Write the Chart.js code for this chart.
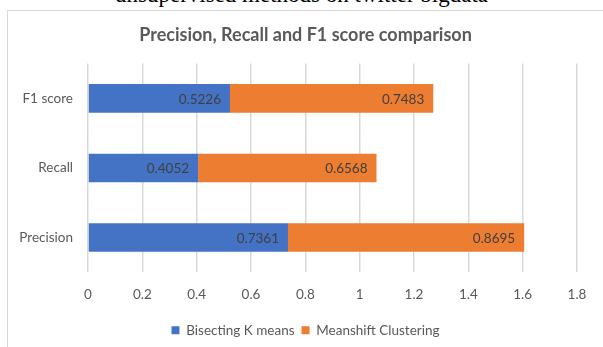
<!DOCTYPE html>
<html>
<head>
<meta charset="utf-8">
<script src="https://cdn.jsdelivr.net/npm/chart.js@4"></script>
<style>
  html, body { margin: 0; padding: 0; background: #fff; overflow: hidden; }
  body { width: 603px; height: 347px; position: relative; }
  #caption {
    position: absolute; left: 0; top: -18px; width: 603px; text-align: center;
    font-family: "Liberation Serif", serif; font-size: 23px; color: #000; white-space: nowrap;
  }
  #box {
    position: absolute; left: 7px; top: 10px; width: 620px; height: 360px;
    border: 1px solid #d9d9d9; background: #fff;
  }
  #chart { position: absolute; left: 0; top: 0; }
</style>
</head>
<body>
<div id="caption">unsupervised methods on twitter bigdata</div>
<div id="box"><canvas id="chart" width="595" height="336"></canvas></div>
<script>
const categories = ["F1 score", "Recall", "Precision"];
const bisecting = [0.5226, 0.4052, 0.7361];
const meanshift = [0.7483, 0.6568, 0.8695];
const seriesNames = ["Bisecting K means", "Meanshift Clustering"];
const xTicks = [0, 0.2, 0.4, 0.6, 0.8, 1, 1.2, 1.4, 1.6, 1.8];

const FONT = "Lato, 'Open Sans', sans-serif";

// labels at the inside end of each bar segment
const barLabels = {
  id: "barLabels",
  afterDatasetsDraw(chart) {
    const ctx = chart.ctx;
    ctx.save();
    ctx.font = "13.5px " + FONT;
    ctx.fillStyle = "#404040";
    ctx.textAlign = "right";
    ctx.textBaseline = "middle";
    chart.data.datasets.forEach((ds, i) => {
      chart.getDatasetMeta(i).data.forEach((bar, j) => {
        ctx.fillText(ds.data[j].toFixed(4), bar.x - 9, bar.y + 1);
      });
    });
    ctx.restore();
  },
};

new Chart(document.getElementById("chart"), {
  type: "bar",
  data: {
    labels: categories,
    datasets: [
      { label: seriesNames[0], data: bisecting, backgroundColor: "#4472C4" },
      { label: seriesNames[1], data: meanshift, backgroundColor: "#ED7D31" },
    ],
  },
  plugins: [barLabels],
  options: {
    responsive: false,
    animation: false,
    indexAxis: "y",
    layout: { padding: { left: 0, right: 0, top: 0, bottom: 0 } },
    datasets: {
      bar: { barPercentage: 0.41, categoryPercentage: 1 },
    },
    scales: {
      x: {
        stacked: true,
        min: 0,
        max: 1.8,
        afterBuildTicks: (scale) => {
          scale.ticks = xTicks.map((v) => ({ value: v }));
        },
        border: { display: false },
        grid: { color: "#d9d9d9", lineWidth: 1.5, drawTicks: false },
        ticks: {
          color: "#595959",
          font: { family: FONT, size: 13.5 },
          padding: 14,
          maxRotation: 0,
          callback: (value) => String(value),
        },
      },
      y: {
        stacked: true,
        afterFit: (scale) => { scale.width = 80; },
        border: { display: false },
        grid: { display: false, drawTicks: false },
        ticks: {
          color: "#595959",
          font: { family: FONT, size: 13.5 },
          padding: 15,
        },
      },
      // empty axis on the right, only keeps space free there
      yRight: {
        type: "linear",
        position: "right",
        afterFit: (scale) => { scale.width = 26; },
        border: { display: false },
        grid: { display: false, drawTicks: false },
        ticks: { display: false },
      },
    },
    plugins: {
      title: {
        display: true,
        text: "Precision, Recall and F1 score comparison",
        color: "#595959",
        font: { family: FONT, size: 18, weight: "bold" },
        padding: { top: 13, bottom: 18 },
      },
      legend: {
        position: "bottom",
        labels: {
          color: "#595959",
          font: { family: FONT, size: 13.5 },
          boxWidth: 8,
          boxHeight: 8,
          padding: 7,
        },
      },
      tooltip: { enabled: false },
    },
  },
});
</script>
</body>
</html>
